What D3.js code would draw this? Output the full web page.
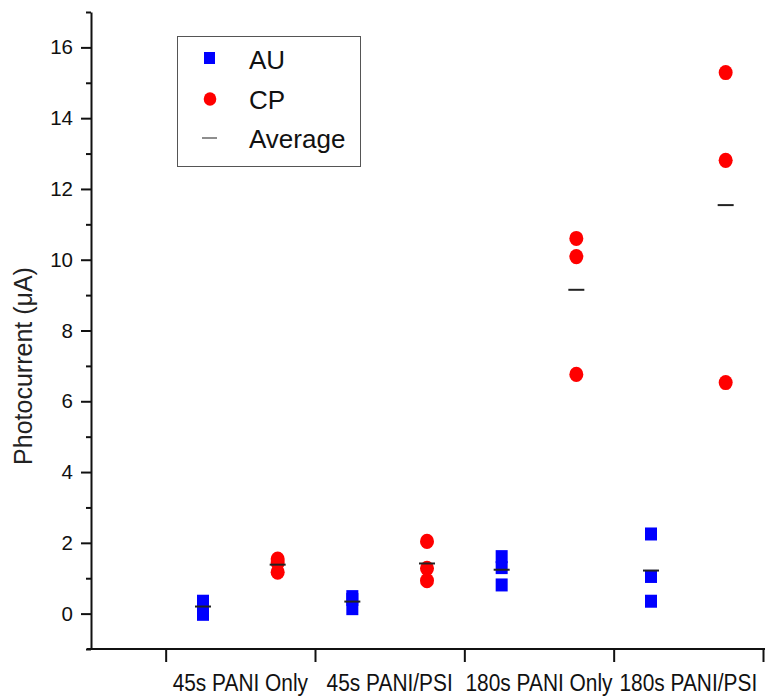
<!DOCTYPE html>
<html>
<head>
<meta charset="utf-8">
<script src="https://cdn.jsdelivr.net/npm/d3@7/dist/d3.min.js"></script>
<style>
  html, body { margin: 0; padding: 0; background: #fff; }
  svg { display: block; font-family: "Liberation Sans", Arial, Helvetica, sans-serif; }
</style>
</head>
<body>
<svg id="chart" width="765" height="698"></svg>
<script>
// Sample groups (one band per group on the x axis)
const categories = ["45s PANI Only", "45s PANI/PSI", "180s PANI Only", "180s PANI/PSI"];

// Photocurrent readings (µA), three electrodes per group
const auValues = [
  [0.35, 0.27, -0.02],
  [0.48, 0.40, 0.14],
  [1.61, 1.30, 0.81],
  [2.25, 1.05, 0.35]
];
const cpValues = [
  [1.54, 1.44, 1.17],
  [2.04, 1.28, 0.93],
  [10.60, 10.09, 6.76],
  [15.29, 12.81, 6.53]
];

const yMajorTicks = [0, 2, 4, 6, 8, 10, 12, 14, 16];
const yMinorTicks = [-1, 1, 3, 5, 7, 9, 11, 13, 15, 17];
const xBoundaryTicks = [1, 2, 3, 4, 5];
const legendLabels = ["AU", "CP", "Average"];

const svg = d3.select("#chart");

const x = d3.scaleLinear().domain([0.5, 5]).range([91, 763]);
const y = d3.scaleLinear().domain([-1, 17]).range([649, 12]);

const auColor = "#0000ff";
const cpColor = "#ff0000";

// Y axis: major ticks with labels, minor ticks between
const yAxisG = svg.append("g").attr("transform", `translate(${x(0.5)},0)`);
yAxisG.call(d3.axisLeft(y).tickValues(yMajorTicks).tickSize(10).tickSizeOuter(0).tickPadding(8))
  .call(g => g.select(".domain").attr("stroke", "#111").attr("stroke-width", 2))
  .call(g => g.selectAll(".tick line").attr("stroke", "#111").attr("stroke-width", 2))
  .call(g => g.selectAll(".tick text").attr("font-size", 20.5).attr("fill", "#111")
    .attr("font-family", "Liberation Sans, Arial, sans-serif"));
svg.append("g").attr("transform", `translate(${x(0.5)},0)`)
  .call(d3.axisLeft(y).tickValues(yMinorTicks).tickSize(5).tickFormat(""))
  .call(g => g.select(".domain").remove())
  .call(g => g.selectAll(".tick line").attr("stroke", "#111").attr("stroke-width", 2));

// X axis: ticks mark the group boundaries, labels sit between them
const xAxisG = svg.append("g").attr("transform", `translate(0,${y(-1)})`);
xAxisG.call(d3.axisBottom(x).tickValues(xBoundaryTicks).tickSize(13).tickSizeOuter(0).tickFormat(""))
  .call(g => g.select(".domain").attr("stroke", "#111").attr("stroke-width", 2)
    .attr("d", `M${x(0.5) - 4},0H765`))
  .call(g => g.selectAll(".tick line").attr("stroke", "#111").attr("stroke-width", 2));

// Category labels, slightly condensed and tall
svg.append("g").selectAll("text")
  .data(categories)
  .join("text")
  .attr("transform", (d, i) => `translate(${x(i + 1.5)},691) scale(0.95,1.08)`)
  .attr("text-anchor", "middle")
  .attr("font-size", 22)
  .attr("fill", "#111")
  .text(d => d);

// Y axis title
svg.append("text")
  .attr("transform", `translate(32,366) rotate(-90)`)
  .attr("text-anchor", "middle")
  .attr("font-size", 25)
  .attr("fill", "#222")
  .text("Photocurrent (μA)");

// AU points (squares)
const auPoints = auValues.flatMap((vals, i) => vals.map(v => ({ g: i, v })));
svg.append("g").selectAll("rect")
  .data(auPoints)
  .join("rect")
  .attr("x", d => x(d.g + 1.25) - 6)
  .attr("y", d => y(d.v) - 6.5)
  .attr("width", 12)
  .attr("height", 13)
  .attr("fill", auColor);

// CP points (filled dots)
const cpPoints = cpValues.flatMap((vals, i) => vals.map(v => ({ g: i, v })));
svg.append("g").selectAll("ellipse")
  .data(cpPoints)
  .join("ellipse")
  .attr("cx", d => x(d.g + 1.75))
  .attr("cy", d => y(d.v))
  .attr("rx", 7)
  .attr("ry", 7.6)
  .attr("fill", cpColor);

// Group averages as short dashes
const averages = [
  ...auValues.map((vals, i) => ({ pos: i + 1.25, v: d3.mean(vals) })),
  ...cpValues.map((vals, i) => ({ pos: i + 1.75, v: d3.mean(vals) }))
];
svg.append("g").selectAll("line")
  .data(averages)
  .join("line")
  .attr("x1", d => x(d.pos) - 8)
  .attr("x2", d => x(d.pos) + 8)
  .attr("y1", d => y(d.v))
  .attr("y2", d => y(d.v))
  .attr("stroke", "#222")
  .attr("stroke-width", 2);

// Legend
const legend = svg.append("g");
legend.append("rect")
  .attr("x", 177.5).attr("y", 36.5)
  .attr("width", 183).attr("height", 130)
  .attr("fill", "none").attr("stroke", "#555").attr("stroke-width", 1);

legend.append("rect").attr("x", 204).attr("y", 52).attr("width", 11).attr("height", 12).attr("fill", auColor);
legend.append("ellipse").attr("cx", 210).attr("cy", 99).attr("rx", 6.3).attr("ry", 6.8).attr("fill", cpColor);
legend.append("line").attr("x1", 202).attr("x2", 217).attr("y1", 138).attr("y2", 138)
  .attr("stroke", "#444").attr("stroke-width", 1.2);

const legendBaselines = [69, 109, 148];
legend.selectAll("text.lbl")
  .data(legendLabels)
  .join("text")
  .attr("class", "lbl")
  .attr("x", 249)
  .attr("y", (d, i) => legendBaselines[i])
  .attr("font-size", 26)
  .attr("fill", "#111")
  .text(d => d);
</script>
</body>
</html>
